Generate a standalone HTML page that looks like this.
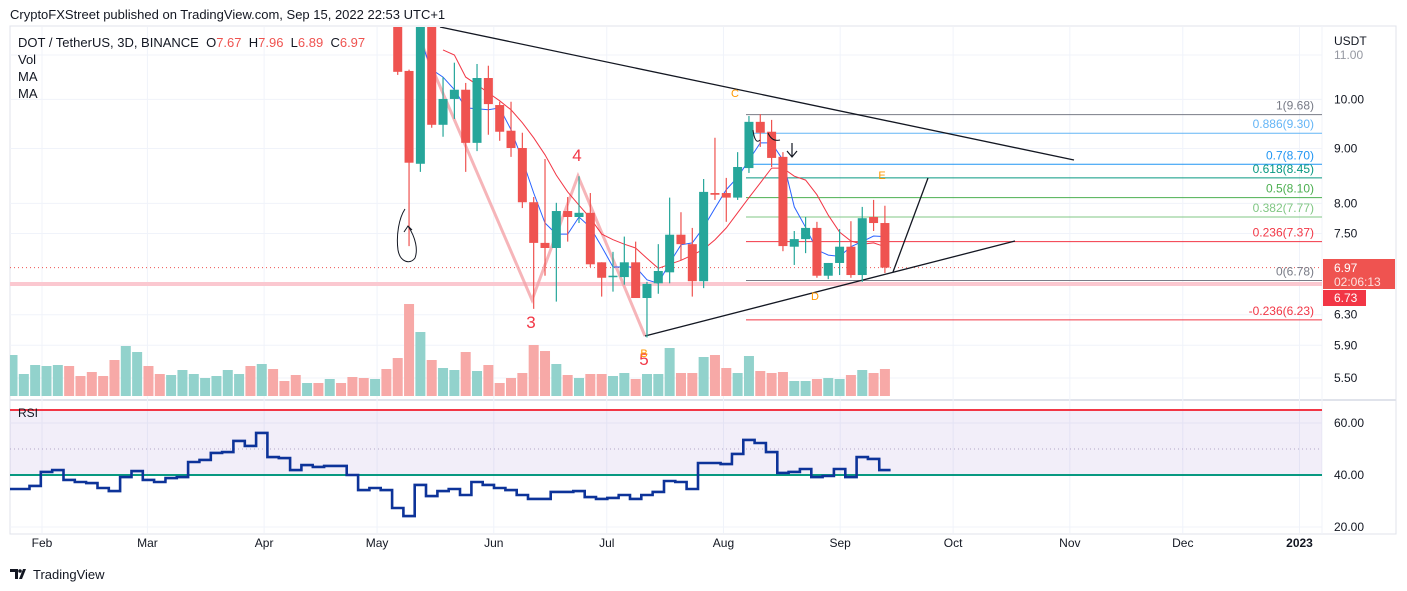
<!DOCTYPE html>
<html><head><meta charset="utf-8"><style>
html,body{margin:0;padding:0;background:#fff;width:1407px;height:591px;overflow:hidden}
svg{display:block;font-family:"Liberation Sans",Arial,sans-serif}
</style></head><body>
<svg id="c" width="1407" height="591" viewBox="0 0 1407 591"></svg>
<script>
// ---- data ----
const candleOpen  = [11.9,10.63,8.71,11.9,9.47,10.01,10.21,9.11,10.47,9.88,9.35,9.01,8.02,7.35,7.27,7.87,7.77,7.84,7.05,6.83,6.83,7.05,6.53,6.74,6.90,7.48,7.33,6.77,8.18,8.18,8.10,8.63,9.53,9.33,8.84,7.29,7.41,7.59,6.85,7.04,7.29,6.86,7.77,7.67];
const candleHigh  = [12.2,10.66,12.2,12.2,10.49,10.82,10.36,10.79,10.75,9.95,9.95,9.31,8.11,8.80,8.01,8.11,8.48,8.18,7.05,7.21,7.45,7.37,6.76,7.33,8.10,7.85,7.59,8.43,9.21,8.45,8.93,9.65,9.69,9.57,8.93,7.54,7.77,7.69,7.04,7.57,7.70,7.94,8.06,7.96];
const candleLow   = [10.54,7.30,8.56,9.41,9.23,9.59,8.56,8.95,9.27,9.15,8.84,7.92,6.38,6.85,6.48,7.37,7.67,6.98,6.55,6.62,6.72,6.53,6.00,6.59,6.74,7.08,6.55,6.67,8.06,7.69,8.06,8.54,9.03,8.65,7.22,7.01,7.19,6.82,6.80,6.86,6.82,6.76,7.54,6.89];
const candleClose = [10.61,8.73,11.9,9.47,10.01,10.21,9.11,10.47,9.90,9.33,9.01,8.02,7.35,7.27,7.87,7.77,7.84,7.02,6.82,6.85,7.05,6.53,6.73,6.92,7.48,7.33,6.77,8.20,8.15,8.10,8.65,9.53,9.31,8.82,7.30,7.41,7.59,6.85,7.04,7.29,6.86,7.75,7.67,6.97];
const firstCandleBar = 34;
const maFast = [null,null,11.36,10.66,10.49,10.21,9.82,9.80,9.78,9.82,9.37,8.78,8.18,7.67,7.49,7.49,7.77,7.60,7.29,6.98,6.98,6.98,6.79,6.74,7.04,7.32,7.35,7.60,7.92,8.24,8.46,8.78,9.11,9.11,8.78,7.94,7.60,7.24,7.16,7.14,7.29,7.37,7.46,7.45];
const maSlow = [null,null,null,null,11.12,11.00,10.49,10.32,10.14,9.97,9.78,9.51,9.21,8.88,8.50,8.20,7.97,7.75,7.49,7.40,7.33,7.27,7.11,6.96,7.02,7.08,7.16,7.25,7.40,7.59,7.84,8.10,8.36,8.63,8.63,8.48,8.41,8.15,7.80,7.52,7.38,7.33,7.35,7.29];
const volume = [41,22,31,30,31,30,20,24,20,36,50,44,30,22,21,26,22,18,20,26,22,30,32,27,15,21,13,13,17,13,19,18,17,27,38,92,64,36,28,26,44,25,31,13,18,23,51,45,32,21,18,22,22,20,23,17,22,22,48,23,23,39,41,28,23,40,25,23,24,15,15,17,18,17,21,26,23,27];
const earlyVolUp = [1,1,1,1,1,0,0,0,0,0,1,1,0,0,1,1,1,1,1,1,1,0,1,0,0,0,1,0,1,0,0,0,1,0];
const rsi = [34.6,34.6,35.8,41.2,41.9,38.1,37.3,36.9,35.0,33.8,39.2,41.5,38.1,37.3,38.8,39.2,45.0,45.8,48.5,48.8,53.1,51.2,56.2,46.9,46.5,41.9,43.8,43.1,43.5,43.5,40.0,34.2,35.0,34.2,27.3,24.2,36.2,31.9,33.8,34.6,32.3,37.3,36.2,35.0,34.2,32.3,30.8,30.8,33.5,33.5,33.8,31.5,30.8,31.2,32.3,30.8,32.3,33.5,37.7,37.3,34.6,44.6,44.6,44.2,48.1,53.5,52.3,48.8,40.8,41.2,42.3,39.2,39.6,42.3,39.2,46.9,46.2,41.9];
const priceTicks = [11,10,9,8,7.5,6.3,5.9,5.5];
const rsiTicks = [60,40,20];
const monthLabels = ["Feb","Mar","Apr","May","Jun","Jul","Aug","Sep","Oct","Nov","Dec","2023"];
const monthDays = [0,28,59,89,120,150,181,212,242,273,303,334];
const fibRatios = ["1","0.886","0.7","0.618","0.5","0.382","0.236","0","-0.236"];
const fibPrices = [9.68,9.30,8.70,8.45,8.10,7.77,7.37,6.78,6.23];
const fibColors = ["#787b86","#64b5f6","#2196f3","#089981","#4caf50","#81c784","#f23645","#787b86","#f23645"];

// ---- scales ----
const yP = p => 55 + Math.log(11/p)*466;
const xB = k => 12.5 + k*11.33;
const xD = d => 42 + d*3.765;
const yR = v => 475 - (v-40)*2.6;
const volBase = 396;

const S = document.getElementById('c');
const NS = 'http://www.w3.org/2000/svg';
function mk(tag, attrs, parent){ const e=document.createElementNS(NS,tag); for(const k in attrs) e.setAttribute(k,attrs[k]); (parent||S).appendChild(e); return e; }

const defs = mk('defs',{});
const cp = mk('clipPath',{id:'mainClip'},defs); mk('rect',{x:10,y:27,width:1312,height:371},cp);
const cr = mk('clipPath',{id:'rsiClip'},defs); mk('rect',{x:10,y:401,width:1312,height:132},cr);

let e;
e = mk('rect',{x:10,y:26,width:1386,height:508,fill:'none',stroke:'#e0e3eb'});
 
e = mk('line',{x1:10,y1:400,x2:1396,y2:400,stroke:'#e0e3eb','stroke-width':2});
 
e = mk('line',{x1:1322,y1:26,x2:1322,y2:534,stroke:'#f0f3fa'});
 

const grid = mk('g',{stroke:'#f0f3fa','stroke-width':1});
 
monthDays.forEach(d=>{ mk('line',{x1:xD(d),y1:27,x2:xD(d),y2:533},grid); });
priceTicks.forEach(p=>{ mk('line',{x1:10,y1:yP(p),x2:1322,y2:yP(p)},grid); });
rsiTicks.forEach(v=>{ mk('line',{x1:10,y1:yR(v),x2:1322,y2:yR(v)},grid); });

const main = mk('g',{'clip-path':'url(#mainClip)'});
 

const vg = mk('g',{},main);
 
volume.forEach((v,k)=>{
  let up;
  if(k<firstCandleBar) up = earlyVolUp[k]===1; else { const i=k-firstCandleBar; up = candleClose[i]>=candleOpen[i]; }
  const r = mk('rect',{x:xB(k)-5,y:volBase-v,width:10,height:v,fill:up?'#92d2cc':'#f7a9a7'},vg);
   
});

e = mk('line',{x1:10,y1:yP(6.73),x2:1322,y2:yP(6.73),stroke:'#fbc8d0','stroke-width':4},main);
 
e = mk('line',{x1:10,y1:yP(6.97),x2:1322,y2:yP(6.97),stroke:'#ef5350','stroke-width':1,'stroke-dasharray':'1 3'},main);
 

fibPrices.forEach((p,i)=>{
  const y=yP(p);
  const l = mk('line',{x1:746,y1:y,x2:1322,y2:y,stroke:fibColors[i],'stroke-width':1},main);
   
  const t = mk('text',{x:1314,y:y-5,'text-anchor':'end','font-size':12,fill:fibColors[i]},main);
  t.textContent = fibRatios[i]+'('+p.toFixed(2)+')';
   
});

e = mk('polyline',{points:'420,40 532,300 578,176 645,336',fill:'none',stroke:'#f4a3a8','stroke-width':3,'stroke-opacity':0.8},main);
 

e = mk('line',{x1:440,y1:27,x2:1074,y2:160,stroke:'#131722','stroke-width':1.3},main);
 
e = mk('line',{x1:645,y1:336,x2:1015,y2:241,stroke:'#131722','stroke-width':1.3},main);
 
e = mk('line',{x1:893,y1:272,x2:928,y2:178,stroke:'#131722','stroke-width':1.3},main);
 

function maPath(arr,color,name){
  let d=''; arr.forEach((v,i)=>{ if(v==null) return; const x=xB(i+firstCandleBar), y=yP(v); d += (d?'L':'M')+x.toFixed(1)+','+y.toFixed(1); });
  const p = mk('path',{d:d,fill:'none',stroke:color,'stroke-width':1},main);
   
}
maPath(maSlow,'#f23645','ma-slow-line');
maPath(maFast,'#2962ff','ma-fast-line');

const cg = mk('g',{},main);
 
candleOpen.forEach((o,i)=>{
  const c=candleClose[i], up=c>=o, col=up?'#26a69a':'#ef5350', x=xB(i+firstCandleBar);
  const g = mk('g',{},cg);
   
  mk('line',{x1:x,y1:yP(candleHigh[i]),x2:x,y2:yP(candleLow[i]),stroke:col,'stroke-width':1.2},g);
  const top=yP(Math.max(o,c)), bot=yP(Math.min(o,c));
  mk('rect',{x:x-4.5,y:top,width:9,height:Math.max(1.5,bot-top),fill:col},g);
});

function txt(x,y,s,fill,size,name,anchor){ const t=mk('text',{x:x,y:y,fill:fill,'font-size':size,'text-anchor':anchor||'middle'},main); t.textContent=s;   return t; }
txt(577,161,'4','#f23645',17,'wave-label-4');
txt(531,328,'3','#f23645',17,'wave-label-3');
txt(644,365,'5','#f23645',17,'wave-label-5');
txt(644,357,'B','#ff9800',11,'pattern-label-b');
txt(735,97,'C','#ff9800',11,'pattern-label-c');
txt(882,179,'E','#ff9800',11,'pattern-label-e');
txt(815,300,'D','#ff9800',11,'pattern-label-d');
e = mk('path',{d:'M405,209 C399,218 396,235 398,250 C400,262 410,265 415,258 C418,250 416,238 408,226 M404,232 L408,226 L412,230',fill:'none',stroke:'#131722','stroke-width':1},main);
 
e = mk('path',{d:'M792,143 L792,157 M787,151 L792,157 L797,151',fill:'none',stroke:'#131722','stroke-width':1.2},main);
 
e = mk('path',{d:'M753,130 Q755,145 760,140 M768,133 Q772,142 780,140',fill:'none',stroke:'#131722','stroke-width':1},main);
 

const rg = mk('g',{'clip-path':'url(#rsiClip)'});
 
e = mk('rect',{x:10,y:yR(65),width:1312,height:yR(40)-yR(65),fill:'#7e57c2','fill-opacity':0.1},rg);
 
e = mk('line',{x1:10,y1:yR(50),x2:1322,y2:yR(50),stroke:'#b2a6c8','stroke-dasharray':'1 3'},rg);
 
e = mk('line',{x1:10,y1:yR(65),x2:1322,y2:yR(65),stroke:'#f23645','stroke-width':2},rg);
 
e = mk('line',{x1:10,y1:yR(40),x2:1322,y2:yR(40),stroke:'#089981','stroke-width':2},rg);
 
let rd='';
rsi.forEach((v,k)=>{ const x0=xB(k)-5.66, x1=xB(k)+5.66, y=yR(v); rd += (rd?'L':'M')+x0.toFixed(1)+','+y.toFixed(1)+'L'+x1.toFixed(1)+','+y.toFixed(1); });
e = mk('path',{d:rd,fill:'none',stroke:'#0d3399','stroke-width':2.6},rg);
 
e = mk('text',{x:18,y:417,'font-size':12,fill:'#131722'});
e.textContent='RSI';  

e = mk('text',{x:1334,y:45,'font-size':12,fill:'#131722'}); e.textContent='USDT';
 
priceTicks.forEach(p=>{
  const t = mk('text',{x:1334,y:yP(p)+4,'font-size':12,fill:p===11?'#9598a1':'#131722'}); t.textContent=p.toFixed(2);
   
});
rsiTicks.forEach(v=>{
  const t = mk('text',{x:1334,y:yR(v)+4,'font-size':12,fill:'#131722'}); t.textContent=v.toFixed(2);
   
});
e = mk('rect',{x:1323,y:259,width:72,height:30,fill:'#ef5350'});
 
e = mk('text',{x:1334,y:272,'font-size':12,fill:'#fff'}); e.textContent='6.97';
 
e = mk('text',{x:1334,y:286,'font-size':12,fill:'#fde0df'}); e.textContent='02:06:13';
 
e = mk('rect',{x:1323,y:290,width:43,height:16,fill:'#f23645'});
 
e = mk('text',{x:1334,y:302,'font-size':12,fill:'#fff'}); e.textContent='6.73';
 

monthLabels.forEach((m,i)=>{
  const t = mk('text',{x:xD(monthDays[i]),y:547,'font-size':12,fill:'#131722','text-anchor':'middle','font-weight':m==='2023'?'bold':'normal'});
  t.textContent=m;  
});

e = mk('text',{x:10,y:19,'font-size':13,fill:'#131722'});
e.textContent='CryptoFXStreet published on TradingView.com, Sep 15, 2022 22:53 UTC+1';
 
const lg = mk('text',{x:18,y:47,'font-size':13,fill:'#131722'});
 
lg.innerHTML='DOT / TetherUS, 3D, BINANCE  O<tspan fill="#ef5350">7.67</tspan>  H<tspan fill="#ef5350">7.96</tspan>  L<tspan fill="#ef5350">6.89</tspan>  C<tspan fill="#ef5350">6.97</tspan>';
lg.style.whiteSpace='pre';
[['Vol',64,'volume-legend'],['MA',81,'ma-legend-1'],['MA',98,'ma-legend-2']].forEach(a=>{
  const t=mk('text',{x:18,y:a[1],'font-size':13,fill:'#131722'}); t.textContent=a[0];
   
});
const lgo = mk('g',{});
 
mk('path',{d:'M10,569 h8 v10 h-3 v-7 h-5 z M19,579 l4,-10 h3 l-4,10 z',fill:'#131722'},lgo);
mk('circle',{cx:20,cy:571,r:1.8,fill:'#131722'},lgo);
const lt = mk('text',{x:33,y:579,'font-size':13,fill:'#131722'},lgo); lt.textContent='TradingView';
</script>
</body></html>
